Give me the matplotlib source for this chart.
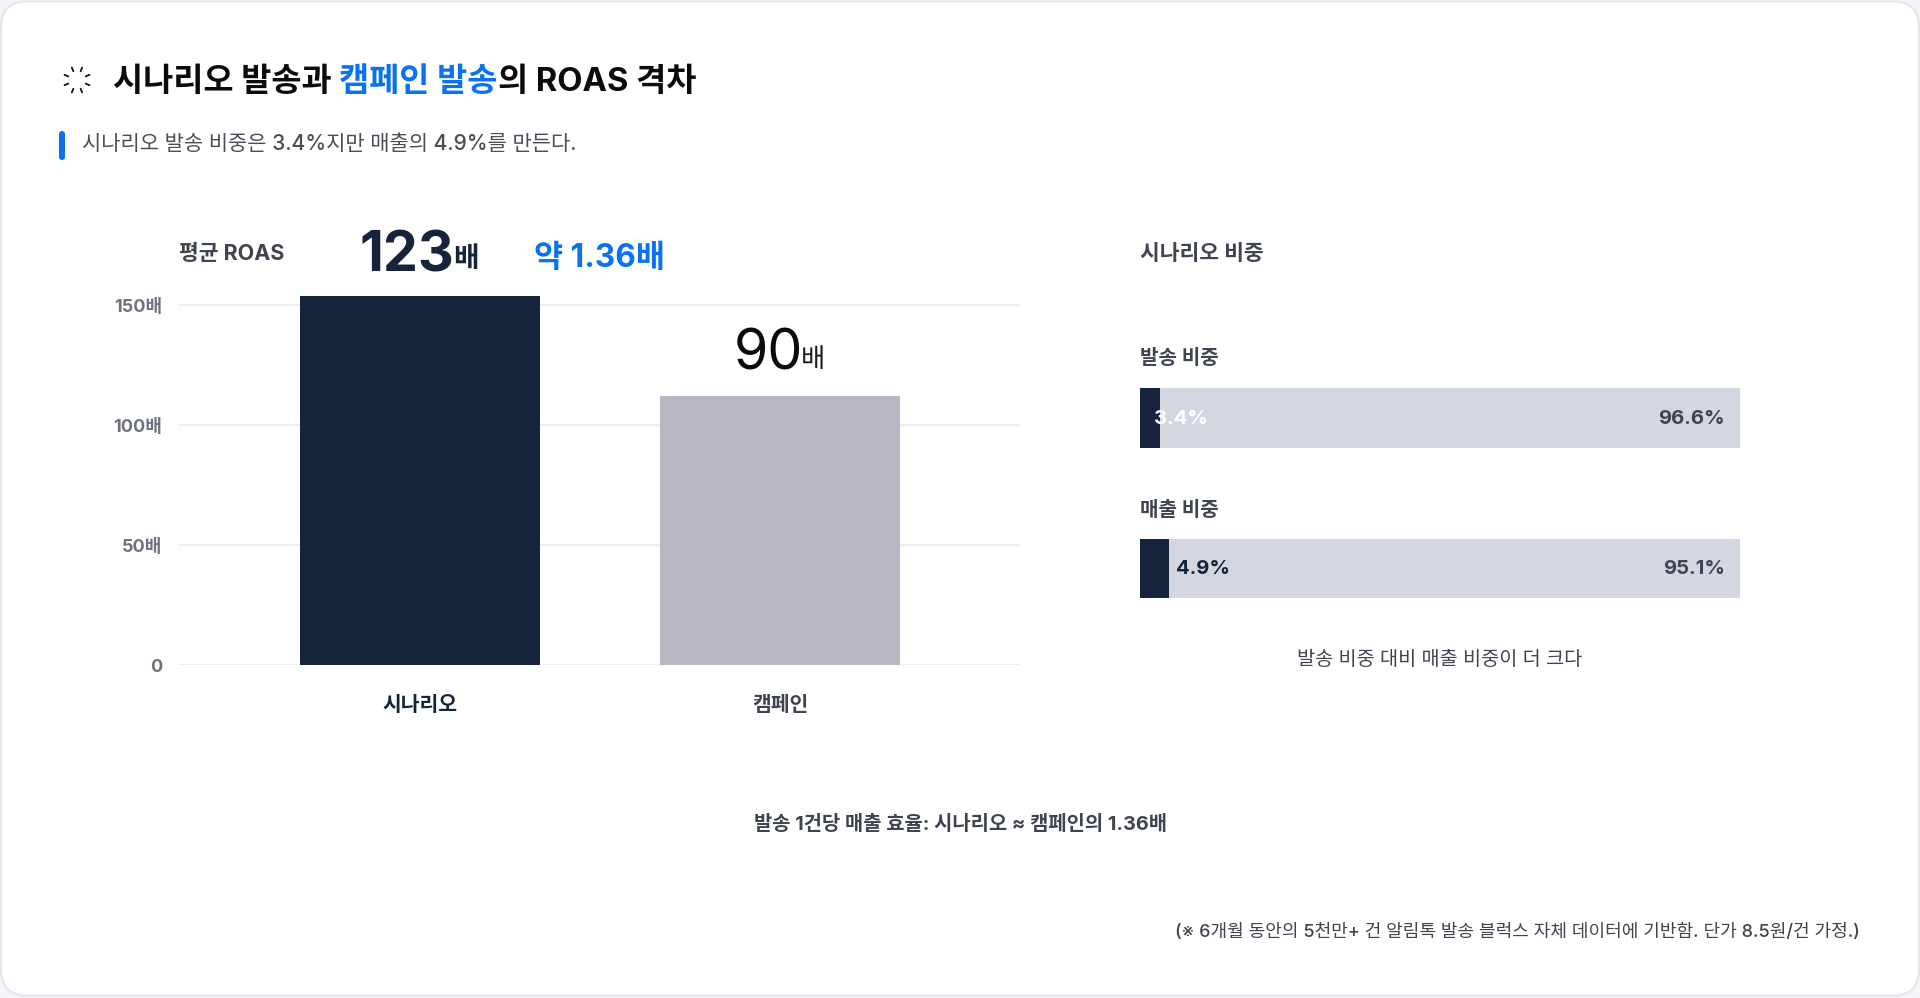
import matplotlib
matplotlib.use('Agg')
import matplotlib.pyplot as plt
from matplotlib.patches import FancyBboxPatch
import numpy as np

plt.rcParams['font.family'] = ['Inter', 'Noto Sans CJK KR', 'DejaVu Sans']

W, H = 1920, 998
NAVY = '#16243b'
GRAY = '#b7b8c1'
LIGHT = '#d4d7df'
BLUE = '#0a72f0'
DARKTXT = '#3f4450'

categories = ['시나리오', '캠페인']
bar_heights = [153.7, 112.0]
bar_labels = ['123', '90']
yticks = [0, 50, 100, 150]
ytick_labels = ['0', '50배', '100배', '150배']
share_names = ['발송 비중', '매출 비중']
scenario_share = [3.4, 4.9]
other_share = [96.6, 95.1]

fig = plt.figure(figsize=(W / 100, H / 100), dpi=100, facecolor='#f3f4f8')
bg = fig.add_axes([0, 0, 1, 1])
bg.set_xlim(0, W)
bg.set_ylim(H, 0)
bg.axis('off')
bg.add_patch(FancyBboxPatch((1, 1.5), W - 2, H - 4, boxstyle='round,pad=0,rounding_size=26',
                            fc='white', ec='#e4e6ef', lw=1.5))

def t(x, y, s, size, color=DARKTXT, weight='medium', ha='left', va='center', **kw):
    return bg.text(x, y, s, fontsize=size, color=color, fontweight=weight, ha=ha, va=va, **kw)

# spinner icon
cx, cy = 77, 80
for i, a in enumerate(np.arange(0, 360, 45) + 22.5):
    r = np.deg2rad(a)
    bg.plot([cx + 9.5 * np.cos(r), cx + 13.5 * np.cos(r)],
            [cy + 9.5 * np.sin(r), cy + 13.5 * np.sin(r)], color='#111111', lw=1.3, solid_capstyle='round')

# title, in coloured runs
fig.canvas.draw()
rend = fig.canvas.get_renderer()
x = 113
for s, c in [('시나리오 발송과 ', '#0b0b0f'), ('캠페인 발송', BLUE), ('의 ROAS 격차', '#0b0b0f')]:
    tx = t(x, 82, s.replace(' ', '\u00a0'), 23.6, c, 'bold')
    x = bg.transData.inverted().transform(tx.get_window_extent(rend))[1, 0]

# subtitle
bg.add_patch(FancyBboxPatch((59, 131), 6, 29, boxstyle='round,pad=0,rounding_size=3', fc=BLUE, ec='none'))
t(82, 144, '시나리오 발송 비중은 3.4%지만 매출의 4.9%를 만든다.', 15.1, '#4a4e59', 'medium')

# bar chart; axes spans value 0 to 160 with the pixel extent of the gridlines
y0, per = 665, 120 / 50
top_val = 160
ax = fig.add_axes([179 / W, 1 - y0 / H, (1020 - 179) / W, top_val * per / H])
ax.set_xlim(179, 1020)
ax.set_ylim(0, top_val)
ax.patch.set_alpha(0)
centers = [419.5, 780]
ax.bar(centers, bar_heights, width=240, color=[NAVY, GRAY], zorder=3)
ax.set_yticks(yticks)
ax.set_yticklabels(ytick_labels, fontsize=13, color='#6f7380', fontweight='bold')
ax.set_xticks(centers)
ax.set_xticklabels(categories, fontsize=14.7, fontweight='bold')
ax.get_xticklabels()[0].set_color(NAVY)
ax.get_xticklabels()[1].set_color(DARKTXT)
ax.tick_params(axis='y', length=0, pad=12)
ax.tick_params(axis='x', length=0, pad=22)
ax.grid(axis='y', color='#eceef1', lw=1.5, zorder=0)
for s in ax.spines.values():
    s.set_visible(False)
ax.set_axisbelow(True)

t(179, 254, '평균 ROAS', 15.5, DARKTXT, 'bold')
a = t(359, 256, bar_labels[0], 40, NAVY, 'bold')
ex = bg.transData.inverted().transform(a.get_window_extent(rend))[1, 0]
t(ex - 1, 260, '배', 20, NAVY, 'bold')
t(534, 258, '약 1.36배', 22.8, BLUE, 'bold')
a = t(734, 355, bar_labels[1], 40, '#0b0b0f', 'regular')
ex = bg.transData.inverted().transform(a.get_window_extent(rend))[1, 0]
t(ex - 3, 360, '배', 19, '#1a1a20', 'regular')

# share panel
t(1140, 254, '시나리오 비중', 15.5, DARKTXT, 'bold')
ax2 = fig.add_axes([1140 / W, 1 - 598 / H, 600 / W, 210 / H])
ax2.set_xlim(0, 100)
ax2.set_ylim(598, 388)
ax2.axis('off')
ys = [418, 568.5]
ax2.barh(ys, scenario_share, height=60, color=NAVY, zorder=3)
ax2.barh(ys, other_share, left=scenario_share, height=60, color=LIGHT, zorder=2)
label_y = [359, 510]
for yy, name in zip(label_y, share_names):
    t(1140, yy, name, 14.5, DARKTXT, 'bold')
ax2.text(2.3, ys[0] + 1, f'{scenario_share[0]}%', fontsize=14.6, color='white', fontweight='bold', va='center', zorder=5)
ax2.text(6.0, ys[1] + 1, f'{scenario_share[1]}%', fontsize=14.6, color=NAVY, fontweight='bold', va='center', zorder=5)
for yy, v in zip(ys, other_share):
    ax2.text(97.5, yy + 1, f'{v}%', fontsize=14.6, color=DARKTXT, fontweight='bold', va='center', ha='right', zorder=5)

t(1440, 660, '발송 비중 대비 매출 비중이 더 크다', 14.2, DARKTXT, 'medium', ha='center')
t(960, 825, '발송 1건당 매출 효율: 시나리오 ≈ 캠페인의 1.36배', 14.3, DARKTXT, 'bold', ha='center')
t(1860, 932, '(※ 6개월 동안의 5천만+ 건 알림톡 발송 블럭스 자체 데이터에 기반함. 단가 8.5원/건 가정.)', 13, DARKTXT, 'medium', ha='right')

fig.savefig('out.png', dpi=100, facecolor=fig.get_facecolor())
